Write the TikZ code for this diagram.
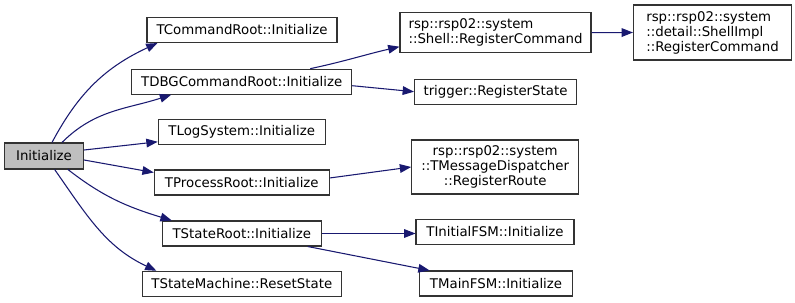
\documentclass[tikz,border=0pt]{standalone}
\usepackage{fontspec}
\setmainfont{DejaVu Sans}
\usetikzlibrary{arrows.meta}
\definecolor{edgeblue}{HTML}{191970}
\definecolor{rootfill}{HTML}{BFBFBF}
\definecolor{boxline}{HTML}{333333}
\tikzset{
  fn/.style={draw=boxline, line width=0.8pt, fill=white, inner sep=0pt,
    font=\fontsize{10}{11.25}\selectfont, minimum height=25*0.75pt},
  w/.style={minimum width=#1*0.75pt},
  h/.style={minimum height=#1*0.75pt},
  rootfn/.style={fn, fill=rootfill},
  call/.style={draw=edgeblue, line width=0.8pt,
    -{Triangle[length=8.5pt,width=6.5pt]}}
}
\begin{document}
\begin{tikzpicture}[x=0.75pt,y=0.75pt]
\useasboundingbox (0,0) rectangle (795,-303);

% caller
\node[rootfn, w=79, h=26] (init) at (44,-156) {Initialize};

% first level
\node[fn, w=190] (cmd)   at (242,-30)     {TCommandRoot::Initialize};
\node[fn, w=220] (dbg)   at (241.7,-81.7) {TDBGCommandRoot::Initialize};
\node[fn, w=167] (log)   at (241.7,-131.8){TLogSystem::Initialize};
\node[fn, w=175] (proc)  at (241.8,-182.5){TProcessRoot::Initialize};
\node[fn, w=159] (state) at (241.8,-233.5){TStateRoot::Initialize};
\node[fn, w=199] (reset) at (241.8,-283.8){TStateMachine::ResetState};

% second level
\node[fn, w=191, h=40, align=left] (shell) at (495.5,-32.7)
  {rsp::rsp02::system\\::Shell::RegisterCommand};
\node[fn, w=162] (trig) at (495.5,-91.7) {trigger::RegisterState};
\node[fn, w=167, h=54, align=center] (route) at (495.2,-167)
  {rsp::rsp02::system\\::TMessageDispatcher\\::RegisterRoute};
\node[fn, w=158] (initfsm) at (495,-232)   {TInitialFSM::Initialize};
\node[fn, w=153] (mainfsm) at (496,-283.5) {TMainFSM::Initialize};

% third level
\node[fn, w=158, h=55, align=left] (impl) at (712.5,-32.5)
  {rsp::rsp02::system\\::detail::ShellImpl\\::RegisterCommand};

% calls from Initialize
\draw[call] ([xshift=6pt]init.north) to[out=62,in=205] ([xshift=8.25pt]cmd.south west);
\draw[call] ([xshift=13.5pt]init.north) to[out=45,in=198] ([xshift=30pt]dbg.south west);
\draw[call] ([yshift=4.5pt]init.east) -- ([yshift=-7.5pt]log.west);
\draw[call] ([yshift=-3pt]init.east) -- ([yshift=7.5pt]proc.west);
\draw[call] ([xshift=18pt]init.south) to[out=-38,in=163] ([xshift=7.5pt]state.north west);
\draw[call] ([xshift=8pt]init.south) to[out=-55,in=155] ([xshift=11pt]reset.north west);

% calls from TDBGCommandRoot::Initialize
\draw[call] ([xshift=-31.5pt]dbg.north east) to[out=12,in=193] ([yshift=-10.5pt]shell.west);
\draw[call] ([yshift=-3pt]dbg.east) -- (trig.west);

% calls further down
\draw[call] (shell.east) -- (impl.west);
\draw[call] ([yshift=3.4pt]proc.east) -- (route.west);
\draw[call] (state.east) -- (initfsm.west |- state.east);
\draw[call] ([xshift=-10.5pt]state.south east) -- ([xshift=8pt]mainfsm.north west);
\end{tikzpicture}
\end{document}
